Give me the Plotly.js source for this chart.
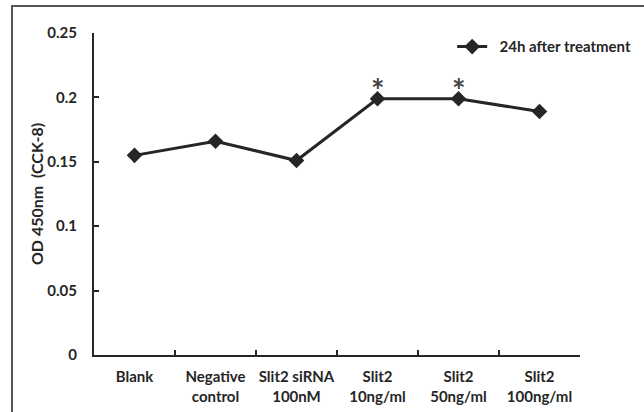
<!DOCTYPE html>
<html>
<head>
<meta charset="utf-8">
<script src="https://cdn.plot.ly/plotly-3.0.1.min.js"></script>
<style>html,body{margin:0;padding:0;background:#fff;}#chart{width:644px;height:412px;}</style>
</head>
<body>
<div id="chart"></div>
<script>
const categories = ["Blank", "Negative control", "Slit2 siRNA 100nM", "Slit2 10ng/ml", "Slit2 50ng/ml", "Slit2 100ng/ml"];
const tickLabels = ["Blank", "Negative<br>control", "Slit2 siRNA<br>100nM", "Slit2<br>10ng/ml", "Slit2<br>50ng/ml", "Slit2<br>100ng/ml"];
const od24h = [0.155, 0.166, 0.151, 0.199, 0.199, 0.189];
const significant = [false, false, false, true, true, false];
const yTicks = [0, 0.05, 0.1, 0.15, 0.2, 0.25];
const yTickLabels = ["0", "0.05", "0.1", "0.15", "0.2", "0.25"];

const FONT = "Lato, 'Open Sans', sans-serif";
const ink = "#262626";

const trace = {
  x: categories,
  y: od24h,
  type: "scatter",
  mode: "lines+markers",
  name: "&nbsp;&nbsp;<b>24h after treatment</b>",
  line: {color: ink, width: 3},
  marker: {symbol: "diamond", size: 12, color: ink}
};

const annotations = [];
categories.forEach((c, i) => {
  if (significant[i]) {
    annotations.push({
      x: c, y: od24h[i], xref: "x", yref: "y",
      text: "*", showarrow: false, yanchor: "bottom", yshift: -13,
      font: {family: FONT, size: 32, color: "#444"}
    });
  }
});

const layout = {
  width: 644, height: 412,
  margin: {l: 94, r: 64, t: 33, b: 57, autoexpand: false},
  paper_bgcolor: "#fff", plot_bgcolor: "#fff",
  font: {family: FONT, color: ink, size: 15, weight: "bold"},
  showlegend: true,
  legend: {
    x: 0.737, xanchor: "left", y: 0.957, yanchor: "middle",
    bgcolor: "rgba(0,0,0,0)",
    font: {family: FONT, size: 15, color: ink, weight: "bold"}
  },
  xaxis: {
    type: "category",
    range: [-0.5, 5.5],
    tickmode: "array", tickvals: categories, ticktext: tickLabels,
    tickson: "boundaries", tickangle: 0,
    ticks: "inside", ticklen: 5, tickwidth: 2, tickcolor: ink,
    showline: true, linecolor: ink, linewidth: 2,
    showgrid: false, zeroline: false,
    tickfont: {family: FONT, size: 15, color: ink, weight: "bold"},
    ticklabelstandoff: 7,
    fixedrange: true
  },
  yaxis: {
    range: [0, 0.25],
    tickmode: "array", tickvals: yTicks, ticktext: yTickLabels,
    ticks: "inside", ticklen: 5, tickwidth: 2, tickcolor: ink,
    showline: true, linecolor: ink, linewidth: 2,
    showgrid: false, zeroline: false,
    tickfont: {family: FONT, size: 15, color: ink, weight: "bold"},
    ticklabelstandoff: 12,
    title: {text: "OD 450nm  (CCK-8)", standoff: 0,
            font: {family: FONT, size: 16, color: ink, weight: "bold"}},
    fixedrange: true
  },
  annotations: annotations,
  shapes: [{
    type: "rect", xref: "paper", yref: "paper", layer: "below",
    x0: -0.1687, x1: 1.3, y0: -0.3, y1: 1.0839,
    line: {color: "#555", width: 2}, fillcolor: "rgba(0,0,0,0)"
  }]
};

Plotly.newPlot("chart", [trace], layout, {displayModeBar: false, staticPlot: true});
</script>
</body>
</html>
